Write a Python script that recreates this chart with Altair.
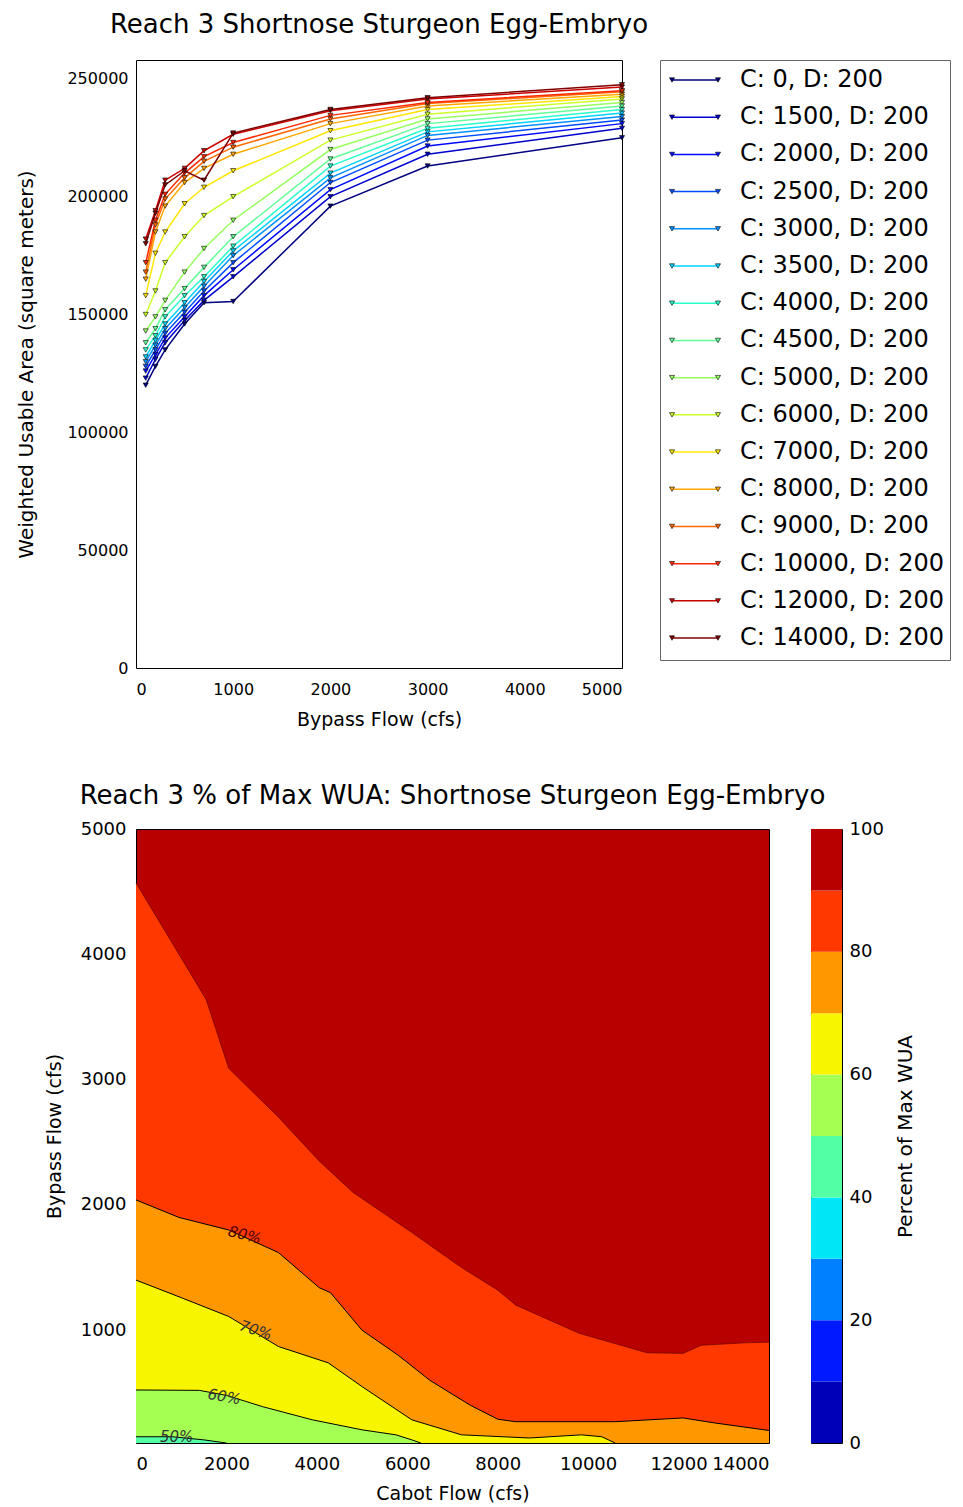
import altair as alt
import pandas as pd

FONT = "DejaVu Sans"

# ---------------- top chart data ----------------
bypass_flows = [100, 200, 300, 500, 700, 1000, 2000, 3000, 5000]
series_labels = [
    "C: 0, D: 200", "C: 1500, D: 200", "C: 2000, D: 200", "C: 2500, D: 200",
    "C: 3000, D: 200", "C: 3500, D: 200", "C: 4000, D: 200", "C: 4500, D: 200",
    "C: 5000, D: 200", "C: 6000, D: 200", "C: 7000, D: 200", "C: 8000, D: 200",
    "C: 9000, D: 200", "C: 10000, D: 200", "C: 12000, D: 200", "C: 14000, D: 200",
]
wua_c0 = [120000, 128000, 135000, 146000, 155000, 155500, 196000, 213000, 225000]
wua_c1500 = [123000, 131000, 138000, 147500, 156000, 166000, 200000, 218000, 229000]
wua_c2000 = [126000, 133000, 140000, 149000, 158000, 169000, 203000, 221500, 231000]
wua_c2500 = [128000, 135000, 142000, 151000, 160000, 172000, 206000, 224000, 232500]
wua_c3000 = [130000, 137000, 144000, 153000, 162000, 175000, 208000, 226000, 234000]
wua_c3500 = [132000, 139000, 146000, 155000, 164000, 177000, 210000, 227500, 235500]
wua_c4000 = [135000, 141000, 149000, 158000, 166000, 179000, 213000, 229000, 237000]
wua_c4500 = [138000, 144000, 152000, 161000, 170000, 183000, 216000, 231000, 238500]
wua_c5000 = [143000, 149000, 156000, 168000, 178000, 190000, 220000, 233000, 240000]
wua_c6000 = [150000, 160000, 172000, 183000, 192000, 200000, 224000, 235000, 241500]
wua_c7000 = [158000, 176000, 185000, 197000, 204000, 211000, 228000, 237000, 242500]
wua_c8000 = [165000, 185000, 196000, 206000, 212000, 218000, 231000, 238500, 243500]
wua_c9000 = [168000, 188000, 199000, 208000, 215000, 221000, 233000, 239500, 244500]
wua_c10000 = [172000, 190000, 201000, 210000, 217000, 223000, 234500, 240000, 245000]
wua_c12000 = [182000, 194000, 207000, 212000, 219500, 226500, 236500, 241500, 246500]
wua_c14000 = [180000, 193000, 205000, 211000, 207000, 227000, 237000, 242000, 247500]
series_values = [wua_c0, wua_c1500, wua_c2000, wua_c2500, wua_c3000, wua_c3500,
                 wua_c4000, wua_c4500, wua_c5000, wua_c6000, wua_c7000, wua_c8000,
                 wua_c9000, wua_c10000, wua_c12000, wua_c14000]
series_colors = ["#000080", "#0000CD", "#0008FF", "#004CFF", "#0090FF", "#00D4FF",
                 "#29FFCD", "#60FF97", "#97FF60", "#CDFF29", "#FFE600", "#FFA700",
                 "#FF6800", "#FF2900", "#CD0000", "#800000"]

# ---------------- contour (bottom) data ----------------
b90_cabot = [0, 1550, 2050, 3150, 4050, 4800, 6100, 7200, 8000, 8400, 9800, 11300, 12100, 12500, 13500, 14000]
b90_bypass = [4570, 3640, 3090, 2700, 2350, 2100, 1780, 1500, 1320, 1200, 975, 820, 815, 880, 900, 905]
b80_cabot = [0, 950, 2050, 3150, 4050, 4300, 5000, 5800, 6500, 7400, 8000, 8400, 10600, 12100, 12800, 14000]
b80_bypass = [2040, 1900, 1800, 1620, 1340, 1300, 1000, 800, 600, 400, 290, 270, 270, 300, 260, 200]
b70_cabot = [0, 1000, 2050, 3150, 4250, 5000, 6100, 7200, 8700, 9850, 10300, 10600]
b70_bypass = [1400, 1260, 1110, 870, 740, 550, 285, 165, 140, 165, 150, 100]
b60_cabot = [0, 1400, 2000, 2800, 3900, 5000, 5750, 6100, 6300]
b60_bypass = [523, 520, 480, 390, 285, 205, 165, 125, 100]
b50_cabot = [0, 800, 1500, 2000]
b50_bypass = [150, 150, 125, 100]
contour_levels = [90, 80, 70, 60, 50]
contour_cabot = [b90_cabot, b80_cabot, b70_cabot, b60_cabot, b50_cabot]
contour_bypass = [b90_bypass, b80_bypass, b70_bypass, b60_bypass, b50_bypass]

# band colours (jet at band midpoints), 0-10 ... 90-100
band_low = [0, 10, 20, 30, 40, 50, 60, 70, 80, 90]
band_high = [10, 20, 30, 40, 50, 60, 70, 80, 90, 100]
band_colors = ["#0000B9", "#001AFF", "#0080FF", "#00E6F7", "#52FFA4",
               "#A4FF52", "#F7F500", "#FF9700", "#FF3800", "#B90000"]

label_text = ["80%", "70%", "60%", "50%"]
label_cabot = [2400, 2650, 1950, 900]
label_bypass = [1760, 1000, 470, 145]
label_angle = [14, 18, 10, 0]
label_color = ["#4a0000", "#333333", "#333333", "#333333"]

# ---------------- top line chart ----------------
rows = []
for idx, (lab, vals) in enumerate(zip(series_labels, series_values)):
    for b, v in zip(bypass_flows, vals):
        rows.append({"series": lab, "idx": idx, "bypass": b, "wua": v})
df_top = pd.DataFrame(rows)

color_scale = alt.Scale(domain=series_labels, range=series_colors)

x_top = alt.X("bypass:Q", scale=alt.Scale(domain=[0, 5000], nice=False),
              axis=alt.Axis(values=[0, 1000, 2000, 3000, 4000, 5000], format="d",
                            title="Bypass Flow (cfs)", labelFontSize=16, titleFontSize=19,
                            labelPadding=13, titlePadding=13))
y_top = alt.Y("wua:Q", scale=alt.Scale(domain=[0, 258000], nice=False),
              axis=alt.Axis(values=[0, 50000, 100000, 150000, 200000, 250000], format="d",
                            title="Weighted Usable Area (square meters)", labelFontSize=16,
                            titleFontSize=20, labelPadding=8, titlePadding=30))

lines = alt.Chart(df_top).mark_line(strokeWidth=1.5).encode(
    x=x_top, y=y_top,
    color=alt.Color("series:N", scale=color_scale, legend=None),
    order="bypass:Q",
)
points = alt.Chart(df_top).mark_point(
    shape="triangle-down", filled=True, size=26, stroke="black", strokeWidth=0.6, opacity=1
).encode(
    x=x_top, y=y_top,
    fill=alt.Fill("series:N", scale=color_scale, legend=None),
)
top_plot = alt.layer(lines, points).properties(
    width=486, height=608,
    title=alt.TitleParams("Reach 3 Shortnose Sturgeon Egg-Embryo", fontSize=26,
                          fontWeight="normal", offset=22),
)

# ---------------- hand-built legend ----------------
leg_df = pd.DataFrame({"series": series_labels, "idx": list(range(len(series_labels)))})
ly = alt.Y("idx:Q", scale=alt.Scale(domain=[-0.5376, 15.59], reverse=True, nice=False, zero=False),
           axis=None)
leg_rule = alt.Chart(leg_df).mark_rule(strokeWidth=1.5).encode(
    x=alt.value(12), x2=alt.value(58), y=ly,
    color=alt.Color("series:N", scale=color_scale, legend=None),
)
leg_pts_l = alt.Chart(leg_df).mark_point(
    shape="triangle-down", filled=True, size=26, stroke="black", strokeWidth=0.6, opacity=1
).encode(x=alt.value(12), y=ly, fill=alt.Fill("series:N", scale=color_scale, legend=None))
leg_pts_r = alt.Chart(leg_df).mark_point(
    shape="triangle-down", filled=True, size=26, stroke="black", strokeWidth=0.6, opacity=1
).encode(x=alt.value(58), y=ly, fill=alt.Fill("series:N", scale=color_scale, legend=None))
leg_text = alt.Chart(leg_df).mark_text(
    align="left", baseline="middle", fontSize=24, font=FONT, color="black"
).encode(x=alt.value(80), y=ly, text="series:N")
legend_box = alt.layer(leg_rule, leg_pts_l, leg_pts_r, leg_text).properties(
    width=290, height=600, view=alt.ViewBackground(stroke="#666666", strokeWidth=1)
)

top_row = alt.hconcat(top_plot, legend_box, spacing=38, bounds="flush")

# ---------------- bottom contour chart ----------------
cab_scale = alt.Scale(domain=[0, 14000], nice=False, zero=False)
byp_scale = alt.Scale(domain=[100, 5000], nice=False, zero=False)
x_bot = alt.X("cabot:Q", scale=cab_scale,
              axis=alt.Axis(values=[0, 2000, 4000, 6000, 8000, 10000, 12000, 14000], format="d",
                            title="Cabot Flow (cfs)", labelFontSize=18, titleFontSize=19,
                            labelPadding=12, titlePadding=11))
y_bot = alt.Y("bypass:Q", scale=byp_scale,
              axis=alt.Axis(values=[1000, 2000, 3000, 4000, 5000], format="d",
                            title="Bypass Flow (cfs)", labelFontSize=18, titleFontSize=19,
                            labelPadding=10, titlePadding=16))

band_color_map = dict(zip(band_high, band_colors))
layers = []
for lev, cab, byp in zip(contour_levels, contour_cabot, contour_bypass):
    d = pd.DataFrame({"cabot": cab, "bypass": byp})
    layers.append(alt.Chart(d).mark_area(color=band_color_map[lev], opacity=1).encode(
        x=x_bot, y=y_bot, y2=alt.datum(100)))
for lev, cab, byp in zip(contour_levels, contour_cabot, contour_bypass):
    d = pd.DataFrame({"cabot": cab, "bypass": byp})
    layers.append(alt.Chart(d).mark_line(
        color="#5a0000" if lev == 90 else "black", strokeWidth=1,
        opacity=0.6 if lev == 90 else 1).encode(x=x_bot, y=y_bot))

lab_df = pd.DataFrame({"cabot": label_cabot, "bypass": label_bypass, "text": label_text,
                       "angle": label_angle, "tcolor": label_color})
layers.append(alt.Chart(lab_df).mark_text(fontSize=15, font=FONT, fontStyle="italic").encode(
    x=x_bot, y=y_bot, text="text:N",
    angle=alt.Angle("angle:Q", scale=None),
    color=alt.Color("tcolor:N", scale=None),
))

contour_plot = alt.layer(*layers).properties(
    width=633, height=614,
    title=alt.TitleParams("Reach 3 % of Max WUA: Shortnose Sturgeon Egg-Embryo", fontSize=26,
                          fontWeight="normal", offset=11),
    view=alt.ViewBackground(fill="#B90000", stroke="black", strokeWidth=1),
)

cb_df = pd.DataFrame({"low": band_low, "high": band_high, "col": band_colors})
colorbar = alt.Chart(cb_df).mark_rect().encode(
    x=alt.value(0), x2=alt.value(31),
    y=alt.Y("low:Q", scale=alt.Scale(domain=[0, 100], nice=False),
            axis=alt.Axis(orient="right", values=[0, 20, 40, 60, 80, 100], format="d",
                          title="Percent of Max WUA", labelFontSize=18, titleFontSize=20,
                          labelPadding=7, titlePadding=32, titleAngle=270)),
    y2="high:Q",
    color=alt.Color("col:N", scale=None, legend=None),
).properties(width=31, height=614, view=alt.ViewBackground(stroke="black", strokeWidth=1))

bottom_row = alt.hconcat(contour_plot, colorbar, spacing=42, bounds="flush")

chart = alt.vconcat(top_row, bottom_row, spacing=52).properties(
    padding={"left": 8, "top": 3, "right": 0, "bottom": 0}
).configure_axis(
    labelFont=FONT, titleFont=FONT, labelColor="black", titleColor="black",
    domain=False, ticks=False, grid=False, titleFontWeight="normal",
).configure_title(
    font=FONT, color="black", fontWeight="normal", anchor="middle",
).configure_view(
    stroke="black", strokeWidth=1,
)

chart.save("out.html", embed_options={"renderer": "svg", "actions": False})
